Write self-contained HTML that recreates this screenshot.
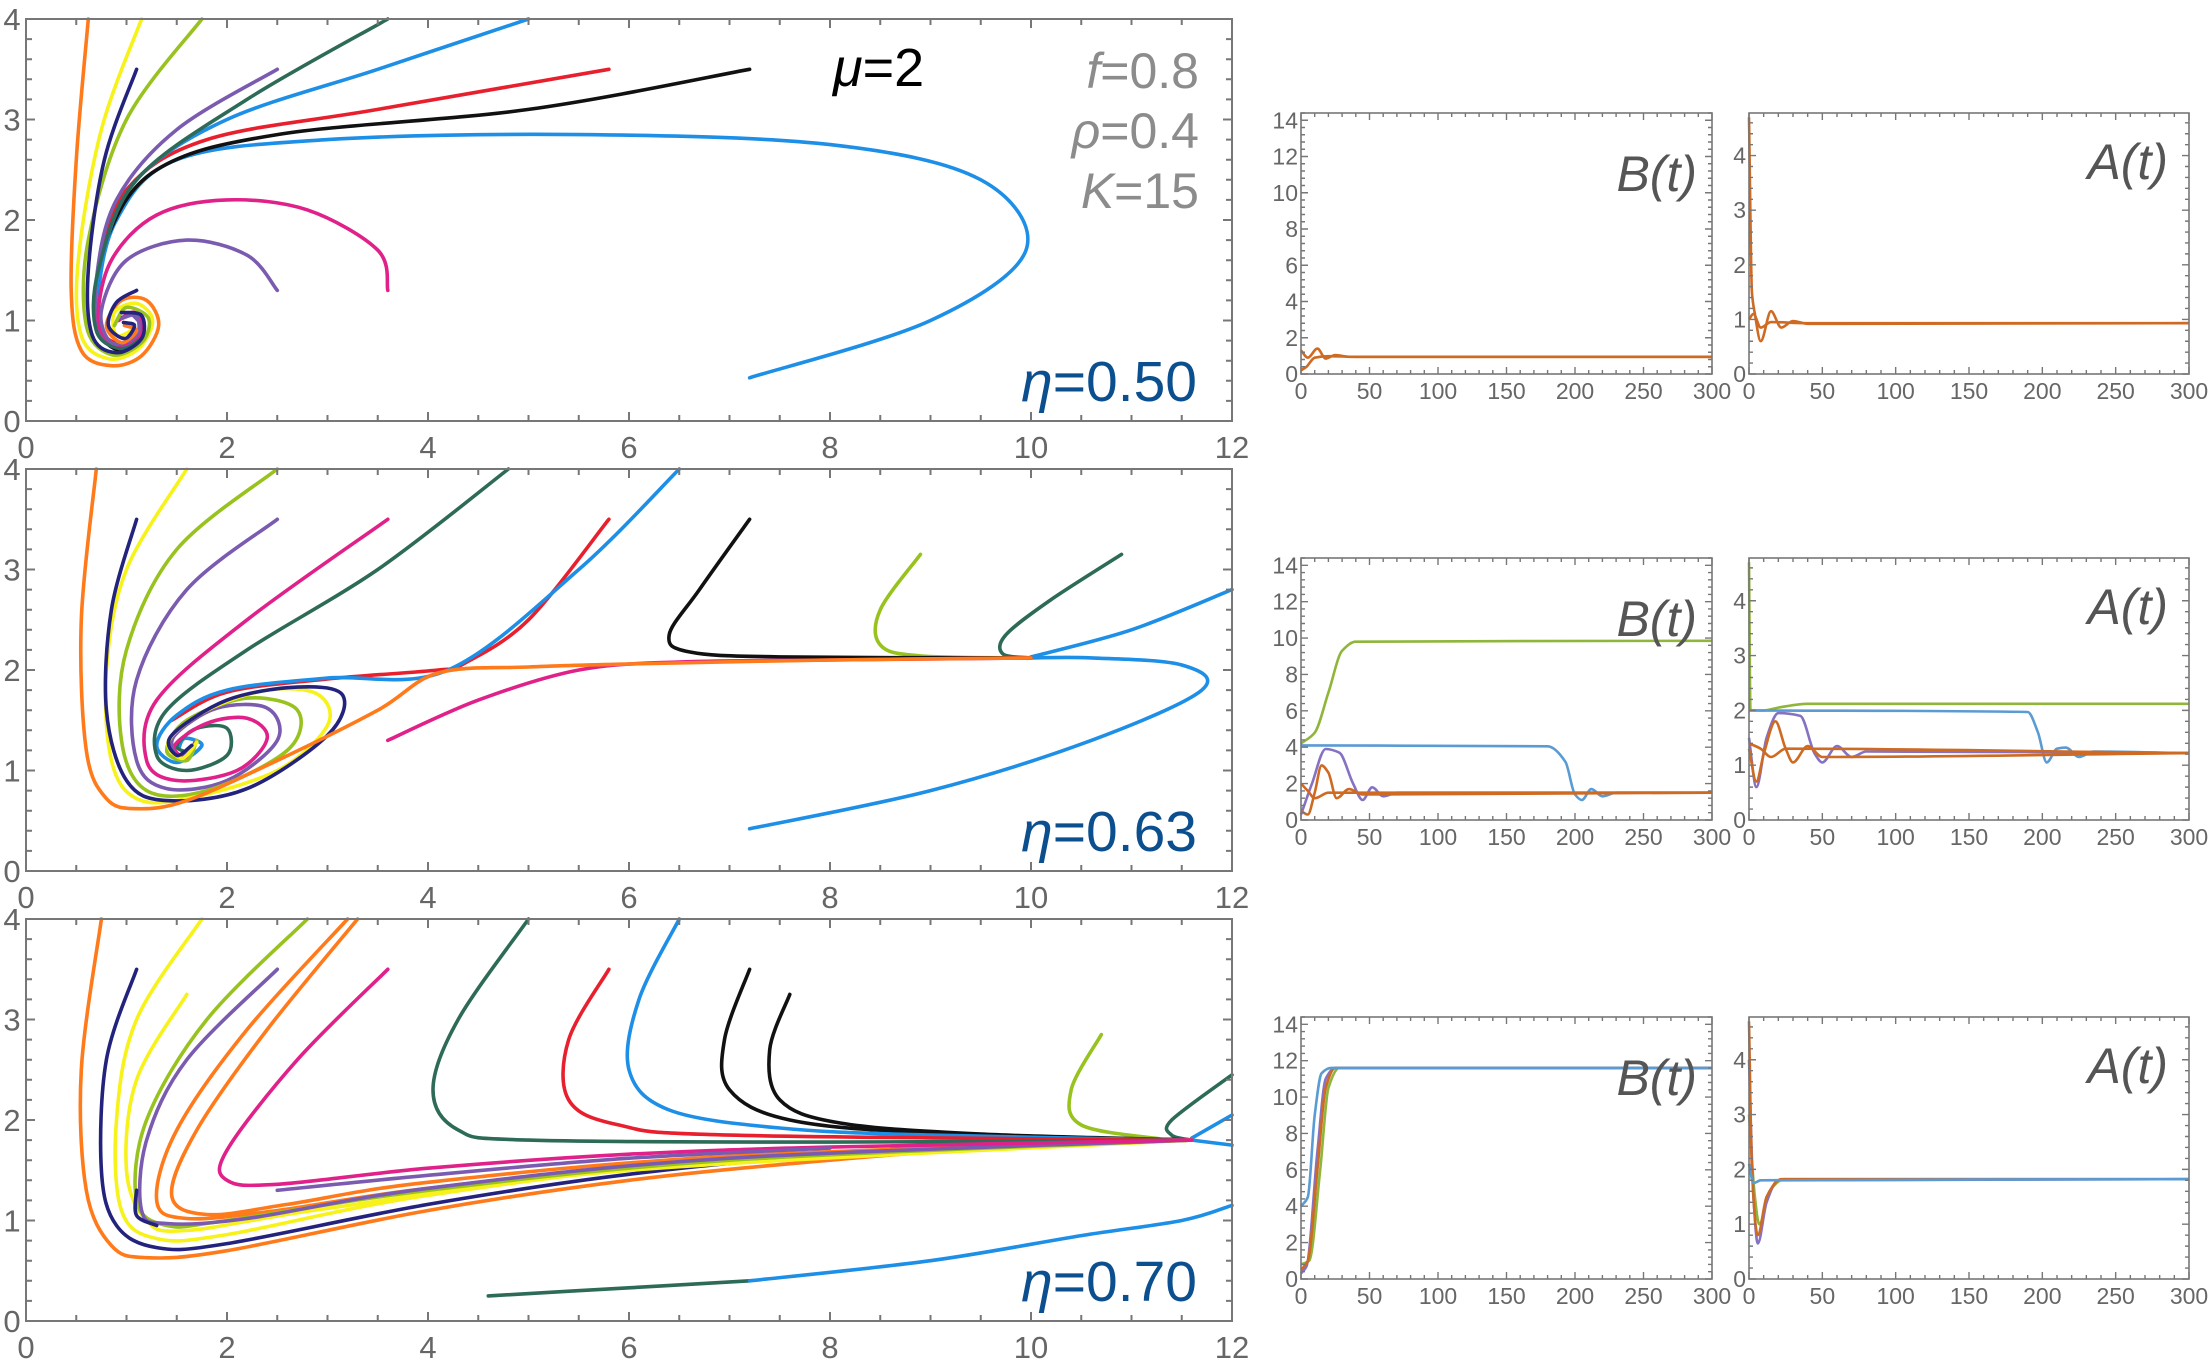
<!DOCTYPE html>
<html><head><meta charset="utf-8"><style>
html,body{margin:0;padding:0;background:#fff;}
svg{display:block;font-family:"Liberation Sans",sans-serif;}
</style></head><body>
<svg id="fig" width="2208" height="1366" viewBox="0 0 2208 1366" xmlns="http://www.w3.org/2000/svg">
<g id="phase"></g>
<g id="series"></g>
<text x="833" y="86" font-size="54" fill="#000"><tspan font-style="italic">μ</tspan>=2</text>
<text x="1199" y="88" font-size="50" fill="#8c8c8c" text-anchor="end"><tspan font-style="italic">f</tspan>=0.8</text>
<text x="1199" y="148" font-size="50" fill="#8c8c8c" text-anchor="end"><tspan font-style="italic">ρ</tspan>=0.4</text>
<text x="1199" y="208" font-size="50" fill="#8c8c8c" text-anchor="end"><tspan font-style="italic">K</tspan>=15</text>
</svg>
<script>
// ---------- phase portrait data (x = B, y = A) ----------
const P1_orange=[[0.62,4],[0.5,2.6],[0.45,1.3],[0.55,0.7],[0.85,0.55],[1.15,0.65],[1.32,0.95],[1.2,1.2],[0.95,1.2],[0.8,0.95],[0.95,0.78],[1.1,0.9],[0.98,0.95]];
const P1_yellow=[[1.15,4],[0.75,2.9],[0.52,1.6],[0.55,0.85],[0.82,0.62],[1.12,0.72],[1.26,1.0],[1.1,1.17],[0.88,1.08],[0.9,0.85],[1.05,0.9]];
const P1_ygreen=[[1.75,4],[1.0,3.0],[0.62,1.8],[0.6,0.95],[0.85,0.66],[1.15,0.78],[1.22,1.02],[1.0,1.13],[0.88,0.95]];
const P1_navy=[[1.1,3.5],[0.78,2.6],[0.62,1.5],[0.66,0.85],[0.9,0.68],[1.15,0.82],[1.15,1.05],[0.95,1.08]];
const P1_teal=[[3.6,4],[2.2,3.2],[1.1,2.4],[0.72,1.5],[0.7,0.9],[0.95,0.72],[1.16,0.86],[1.1,1.05],[0.92,1.02]];
const P1_purple=[[2.5,3.5],[1.5,2.9],[0.9,2.2],[0.7,1.4],[0.75,0.85],[1.0,0.74],[1.17,0.9],[1.05,1.07]];
const P1_blue=[[5,4],[3.5,3.5],[2.0,3.0],[1.1,2.4],[0.75,1.6],[0.72,0.95],[0.95,0.73],[1.15,0.88]];
const P1_red=[[5.8,3.5],[3.5,3.1],[1.8,2.8],[1.0,2.3],[0.72,1.5],[0.75,0.9],[1.0,0.74]];
const P1_black=[[7.2,3.5],[5,3.1],[2.5,2.85],[1.3,2.5],[0.8,1.8],[0.7,1.0],[0.88,0.72],[1.1,0.8]];
const P1_loop=[[7.2,0.43],[9,1.0],[9.95,1.7],[9.5,2.4],[8,2.75],[5.5,2.85],[3,2.8],[1.5,2.6],[0.9,2.0],[0.72,1.2],[0.85,0.75],[1.1,0.8],[1.15,1.0]];
const P1_magenta=[[3.6,1.3],[3.5,1.7],[2.8,2.1],[2.0,2.2],[1.3,2.05],[0.85,1.6],[0.72,1.0],[0.9,0.76],[1.15,0.88],[1.08,1.08],[0.92,1.0]];
const P1_purple2=[[2.5,1.3],[2.2,1.65],[1.6,1.8],[1.0,1.6],[0.75,1.1],[0.85,0.78],[1.1,0.85],[1.1,1.05],[0.95,1.02]];
const P1_navy2=[[1.1,1.3],[0.9,1.18],[0.82,0.95],[0.98,0.82],[1.08,0.95],[0.97,0.98]];

const P2_orange=[[0.7,4],[0.55,2.5],[0.6,1.2],[0.8,0.72],[1.1,0.62],[1.6,0.7],[2.5,1.1],[3.5,1.6],[4.1,1.97],[5,2.03],[6,2.06],[8,2.1],[10,2.12]];
const P2_navy=[[1.1,3.5],[0.85,2.6],[0.8,1.6],[1.0,0.9],[1.4,0.7],[2.2,0.82],[3.0,1.35],[3.15,1.75],[2.7,1.83],[2.0,1.7],[1.45,1.35],[1.5,1.15],[1.65,1.25]];
const P2_yellow=[[1.6,4],[1.0,3.0],[0.8,2.0],[0.85,1.1],[1.1,0.72],[1.6,0.72],[2.5,1.0],[3.0,1.45],[2.9,1.76],[2.4,1.8],[1.8,1.6],[1.42,1.3],[1.55,1.12],[1.7,1.28]];
const P2_ygreen=[[2.5,4],[1.5,3.2],[1.0,2.2],[0.95,1.3],[1.2,0.8],[1.8,0.8],[2.6,1.2],[2.7,1.6],[2.2,1.72],[1.6,1.5],[1.4,1.2],[1.6,1.1],[1.7,1.3]];
const P2_purple=[[2.5,3.5],[1.6,2.8],[1.1,1.9],[1.1,1.1],[1.4,0.82],[2.0,0.9],[2.5,1.3],[2.4,1.62],[1.9,1.62],[1.48,1.35],[1.5,1.15],[1.65,1.22]];
const P2_magenta=[[3.6,3.5],[2.2,2.5],[1.3,1.7],[1.2,1.1],[1.5,0.9],[2.1,1.0],[2.4,1.32],[2.2,1.52],[1.8,1.47],[1.48,1.25],[1.6,1.12],[1.68,1.28]];
const P2_teal=[[4.8,4],[3.5,3.0],[2.2,2.2],[1.4,1.6],[1.3,1.15],[1.6,1.0],[2.0,1.15],[2.0,1.42],[1.7,1.42],[1.5,1.25],[1.6,1.18]];
const P2_blue=[[6.5,4],[5.5,3.0],[4.2,2.0],[3.0,1.92],[2.0,1.8],[1.5,1.55],[1.3,1.25],[1.5,1.08],[1.75,1.25],[1.58,1.32],[1.52,1.22]];
const P2_red=[[5.8,3.5],[5,2.5],[4.35,2.06],[4.1,2.0],[3,1.91],[2,1.78],[1.45,1.5]];
const P2_magenta2=[[3.6,1.3],[4.5,1.7],[5.5,2.0],[6.5,2.08],[8,2.1],[10,2.12]];
const P2_black=[[7.2,3.5],[6.7,2.8],[6.4,2.35],[6.6,2.18],[7.5,2.13],[10,2.12]];
const P2_ygreen2=[[8.9,3.15],[8.5,2.6],[8.5,2.25],[8.9,2.14],[10,2.12]];
const P2_teal2=[[10.9,3.15],[10.2,2.7],[9.75,2.35],[9.72,2.16],[10,2.12]];
const P2_blue2=[[12,2.8],[11,2.4],[10,2.13]];
const P2_loop=[[7.2,0.42],[9,0.8],[10.6,1.3],[11.7,1.8],[11.5,2.05],[10.6,2.12],[10,2.12]];

const P3_orange=[[0.75,4],[0.55,2.5],[0.6,1.3],[0.85,0.75],[1.2,0.63],[2,0.7],[4,1.1],[6,1.4],[8,1.6],[10,1.75],[11.6,1.8]];
const P3_navy=[[1.1,3.5],[0.8,2.6],[0.75,1.5],[0.9,0.95],[1.3,0.73],[2,0.77],[4,1.16],[6,1.46],[8,1.64],[11.6,1.8]];
const P3_yellow=[[1.75,4],[1.1,3.0],[0.9,2.0],[0.95,1.1],[1.3,0.82],[2,0.86],[4,1.25],[7,1.6],[11.6,1.8]];
const P3_yellow2=[[1.6,3.25],[1.1,2.4],[1.0,1.5],[1.2,1.0],[1.6,0.9],[3,1.12],[6,1.5],[11.6,1.8]];
const P3_ygreen=[[2.8,4],[1.8,3.0],[1.2,2.0],[1.1,1.2],[1.4,0.95],[2,1.0],[4,1.3],[7,1.6],[11.6,1.8]];
const P3_purple=[[2.5,3.5],[1.6,2.6],[1.2,1.8],[1.15,1.1],[1.4,0.97],[2.2,1.02],[4,1.32],[7,1.62],[11.6,1.8]];
const P3_orange2=[[3.2,4],[2.2,2.9],[1.5,1.9],[1.3,1.2],[1.6,1.02],[2.5,1.1],[4,1.32],[7,1.62],[11.6,1.8]];
const P3_orange3=[[3.3,4],[2.4,2.9],[1.7,1.9],[1.45,1.25],[1.8,1.06],[2.6,1.16],[4,1.38],[7,1.64],[11.6,1.8]];
const P3_magenta=[[3.6,3.5],[2.7,2.6],[2.0,1.7],[2.0,1.4],[2.5,1.36],[4,1.52],[6,1.66],[8,1.73],[11.6,1.8]];
const P3_purple2=[[2.5,1.3],[4,1.45],[6,1.62],[8,1.72]];
const P3_navy2=[[1.1,1.3],[1.1,1.05],[1.3,0.95]];
const P3_teal=[[5.0,4],[4.3,3.0],[4.05,2.3],[4.3,1.9],[5,1.8],[8,1.78],[11.6,1.8]];
const P3_red=[[5.8,3.5],[5.4,2.8],[5.4,2.2],[5.9,1.95],[7,1.85],[11.6,1.8]];
const P3_blue=[[6.5,4],[6.1,3.2],[6.0,2.5],[6.4,2.1],[7.5,1.92],[9,1.85],[11.6,1.8]];
const P3_black=[[7.2,3.5],[6.95,2.8],[7.0,2.3],[7.6,2.0],[9,1.87],[11.6,1.8]];
const P3_black2=[[7.6,3.25],[7.4,2.7],[7.5,2.2],[8.1,1.97],[9.5,1.86],[11.6,1.8]];
const P3_ygreen2=[[10.7,2.85],[10.4,2.3],[10.5,1.95],[11.3,1.81]];
const P3_teal2=[[12,2.45],[11.4,2.0],[11.4,1.85],[11.6,1.8]];
const P3_blue2=[[12,2.05],[11.6,1.82]];
const P3_blue3=[[12,1.75],[11.6,1.8]];
const P3_tealLow=[[4.6,0.25],[6,0.33],[7.2,0.4]];
const P3_blueLow=[[7.2,0.4],[9,0.6],[10.5,0.85],[11.5,1.0],[12,1.15]];

// ---------- time series data ----------
const T1B_o1=[[0,1.3],[5,0.9],[12,1.4],[18,0.85],[25,1.05],[35,0.95],[300,0.95]];
const T1B_o2=[[0,0.2],[4,0.4],[10,0.9],[20,0.98],[40,0.95],[300,0.95]];
const T1A_o1=[[0,4.7],[2,1.5],[4,1.1],[8,0.6],[15,1.15],[22,0.85],[30,0.97],[40,0.92],[300,0.93]];
const T1A_o2=[[0,1.0],[3,1.1],[8,0.85],[15,0.95],[40,0.93],[300,0.93]];
const T2B_g=[[0,4.2],[10,4.8],[20,7],[30,9.3],[40,9.8],[300,9.85]];
const T2B_b=[[0,4.1],[180,4.05],[193,3.2],[200,1.4],[205,1.1],[212,1.7],[220,1.3],[230,1.5],[300,1.5]];
const T2B_p=[[0,0.3],[8,2],[18,3.9],[28,3.7],[38,2],[45,1.1],[52,1.8],[60,1.3],[70,1.5],[300,1.5]];
const T2B_o1=[[0,0.5],[5,0.3],[10,1.5],[15,3],[20,2.6],[26,1.2],[35,1.7],[45,1.4],[300,1.5]];
const T2B_o2=[[0,2],[5,1.6],[10,1.2],[20,1.5],[300,1.5]];
const T2A_g=[[0,4.7],[1,2],[10,2.0],[20,2.05],[40,2.12],[300,2.12]];
const T2A_b=[[0,2],[190,1.97],[197,1.6],[203,1.05],[210,1.3],[216,1.32],[225,1.15],[235,1.25],[300,1.22]];
const T2A_p=[[0,1.5],[5,0.6],[12,1.5],[20,1.95],[35,1.9],[45,1.2],[50,1.05],[60,1.35],[70,1.15],[80,1.25],[300,1.22]];
const T2A_o1=[[0,1.3],[5,0.7],[10,1.2],[18,1.8],[25,1.3],[30,1.05],[40,1.35],[50,1.15],[300,1.22]];
const T2A_o2=[[0,1.4],[8,1.3],[15,1.15],[25,1.3],[300,1.22]];
const T3B_b=[[0,4],[5,4.5],[10,9],[15,11.3],[22,11.6],[300,11.6]];
const T3B_o=[[0,0.5],[5,1],[12,6],[18,10.5],[25,11.6],[300,11.6]];
const T3B_g=[[0,0.8],[6,1],[14,6],[20,10.5],[28,11.6],[300,11.6]];
const T3B_p=[[0,0.3],[4,0.7],[12,7],[18,11],[25,11.6],[300,11.6]];
const T3A_b=[[0,2.1],[3,1.75],[8,1.8],[300,1.82]];
const T3A_o=[[0,4.7],[2,2],[6,0.8],[12,1.5],[22,1.82],[300,1.82]];
const T3A_p=[[0,4],[3,1.5],[6,0.65],[12,1.4],[20,1.8],[300,1.82]];
const T3A_g=[[0,3],[4,1.5],[7,1.0],[14,1.6],[24,1.82],[300,1.82]];

const xTicksPhase=[0,2,4,6,8,10,12];
const yTicksPhase=[0,1,2,3,4];
const tTicks=[0,50,100,150,200,250,300];
const bTicks=[0,2,4,6,8,10,12,14];
const aTicks=[0,1,2,3,4];
const etaLabels=["η=0.50","η=0.63","η=0.70"];

const NS="http://www.w3.org/2000/svg";
const C={orange:"#ff7a1a",yellow:"#f7f21a",ygreen:"#98c21e",navy:"#23237e",teal:"#2d6b58",purple:"#7b5bb0",blue:"#1e8fe6",red:"#e8202e",black:"#111111",magenta:"#e0218a"};
function mk(tag,attrs,parent){const e=document.createElementNS(NS,tag);for(const k in attrs)e.setAttribute(k,attrs[k]);parent.appendChild(e);return e;}
function smooth(pts){let d="M"+pts[0][0].toFixed(1)+","+pts[0][1].toFixed(1);
 for(let i=0;i<pts.length-1;i++){const p0=pts[Math.max(0,i-1)],p1=pts[i],p2=pts[i+1],p3=pts[Math.min(pts.length-1,i+2)];
  const c1=[p1[0]+(p2[0]-p0[0])/6,p1[1]+(p2[1]-p0[1])/6],c2=[p2[0]-(p3[0]-p1[0])/6,p2[1]-(p3[1]-p1[1])/6];
  d+=" C"+c1[0].toFixed(1)+","+c1[1].toFixed(1)+" "+c2[0].toFixed(1)+","+c2[1].toFixed(1)+" "+p2[0].toFixed(1)+","+p2[1].toFixed(1);}
 return d;}
// monotone cubic (x increasing) for time series
function monotone(pts){const n=pts.length;if(n<3){return "M"+pts.map(p=>p[0].toFixed(1)+","+p[1].toFixed(1)).join(" L");}
 const dx=[],s=[];for(let i=0;i<n-1;i++){dx.push(pts[i+1][0]-pts[i][0]);s.push((pts[i+1][1]-pts[i][1])/dx[i]);}
 const m=[s[0]];for(let i=1;i<n-1;i++){m.push(s[i-1]*s[i]<=0?0:3*(dx[i-1]+dx[i])/((2*dx[i]+dx[i-1])/s[i-1]+(dx[i]+2*dx[i-1])/s[i]));}m.push(s[n-2]);
 let d="M"+pts[0][0].toFixed(1)+","+pts[0][1].toFixed(1);
 for(let i=0;i<n-1;i++){const h=dx[i]/3;d+=" C"+(pts[i][0]+h).toFixed(1)+","+(pts[i][1]+m[i]*h).toFixed(1)+" "+(pts[i+1][0]-h).toFixed(1)+","+(pts[i+1][1]-m[i+1]*h).toFixed(1)+" "+pts[i+1][0].toFixed(1)+","+pts[i+1][1].toFixed(1);}
 return d;}

const phase=document.getElementById('phase');
const panels=[
 {top:19,bot:421,curves:[[P1_loop,'blue'],[P1_black,'black'],[P1_red,'red'],[P1_blue,'blue'],[P1_purple,'purple'],[P1_teal,'teal'],[P1_magenta,'magenta'],[P1_purple2,'purple'],[P1_orange,'orange'],[P1_yellow,'yellow'],[P1_ygreen,'ygreen'],[P1_navy,'navy'],[P1_navy2,'navy']]},
 {top:469,bot:871,curves:[[P2_loop,'blue'],[P2_blue2,'blue'],[P2_teal2,'teal'],[P2_ygreen2,'ygreen'],[P2_black,'black'],[P2_magenta2,'magenta'],[P2_red,'red'],[P2_blue,'blue'],[P2_teal,'teal'],[P2_magenta,'magenta'],[P2_purple,'purple'],[P2_ygreen,'ygreen'],[P2_yellow,'yellow'],[P2_navy,'navy'],[P2_orange,'orange']]},
 {top:919,bot:1321,curves:[[P3_tealLow,'teal'],[P3_blueLow,'blue'],[P3_blue3,'blue'],[P3_blue2,'blue'],[P3_teal2,'teal'],[P3_ygreen2,'ygreen'],[P3_black2,'black'],[P3_black,'black'],[P3_blue,'blue'],[P3_red,'red'],[P3_teal,'teal'],[P3_orange,'orange'],[P3_navy,'navy'],[P3_yellow,'yellow'],[P3_yellow2,'yellow'],[P3_orange3,'orange'],[P3_orange2,'orange'],[P3_ygreen,'ygreen'],[P3_purple,'purple'],[P3_magenta,'magenta'],[P3_purple2,'purple'],[P3_navy2,'navy']]}
];
const L=26,R=1232;
panels.forEach((p,pi)=>{
 const g=mk('g',{},phase);
 
 
 const X=x=>L+x*(R-L)/12, Y=y=>p.bot-y*(p.bot-p.top)/4;
 const cg=mk('g',{fill:'none','stroke-width':3.6,'stroke-linecap':'round','stroke-linejoin':'round'},g);
 p.curves.forEach((c,ci)=>{
  const path=mk('path',{d:smooth(c[0].map(q=>[X(q[0]),Y(q[1])])),stroke:C[c[1]]},cg);
  
  
 });
 const fr=mk('rect',{x:L,y:p.top,width:R-L,height:p.bot-p.top,fill:'none',stroke:'#777','stroke-width':2},g);
 
 
 let td="";
 for(let i=0;i<=24;i++){const x=X(i*0.5),len=i%4==0?9:6;td+=`M${x},${p.bot}v${-len}M${x},${p.top}v${len}`;}
 for(let i=0;i<=20;i++){const y=Y(i*0.2),len=i%5==0?9:6;td+=`M${L},${y}h${len}M${R},${y}h${-len}`;}
 mk('path',{d:td,stroke:'#777','stroke-width':2,fill:'none'},g);
 xTicksPhase.forEach(v=>{const t=mk('text',{x:X(v),y:p.bot+37,'font-size':31,fill:'#666','text-anchor':'middle'},g);t.textContent=v;
  
  });
 yTicksPhase.forEach(v=>{const t=mk('text',{x:12,y:Y(v)+11,'font-size':31,fill:'#666','text-anchor':'middle'},g);t.textContent=v;
  
  });
 const e=mk('text',{x:1197,y:p.top+382,'font-size':57,fill:'#0b4f8e','text-anchor':'end'},g);
 e.innerHTML='<tspan font-style="italic">η</tspan>='+etaLabels[pi].slice(2);
 
 
});

// ---------- time series ----------
const TC={o:"#cf6a23",b:"#5a9bd4",p:"#8672c2",g:"#8fb53a"};
const series=document.getElementById('series');
const rows=[{top:113,bot:374,B:[[T1B_o2,'o'],[T1B_o1,'o']],A:[[T1A_o2,'o'],[T1A_o1,'o']]},
 {top:558,bot:820,B:[[T2B_g,'g'],[T2B_b,'b'],[T2B_p,'p'],[T2B_o2,'o'],[T2B_o1,'o']],A:[[T2A_g,'g'],[T2A_b,'b'],[T2A_p,'p'],[T2A_o2,'o'],[T2A_o1,'o']]},
 {top:1017,bot:1279,B:[[T3B_g,'g'],[T3B_p,'p'],[T3B_o,'o'],[T3B_b,'b']],A:[[T3A_g,'g'],[T3A_p,'p'],[T3A_o,'o'],[T3A_b,'b']]}];
function smallPlot(row,ri,kind){
 const l=kind=='B'?1301:1749,r=kind=='B'?1712:2189,ymax=kind=='B'?14.4:4.78;
 const ticks=kind=='B'?bTicks:aTicks, minor=kind=='B'?0.4:0.2;
 const g=mk('g',{},series);
 
 
 const X=t=>l+t*(r-l)/300, Y=v=>row.bot-v*(row.bot-row.top)/ymax;
 const cg=mk('g',{fill:'none','stroke-width':2.6,'stroke-linejoin':'round'},g);
 row[kind].forEach(s=>{const path=mk('path',{d:monotone(s[0].map(q=>[X(q[0]),Y(q[1])])),stroke:TC[s[1]]},cg);
  
  });
 const fr=mk('rect',{x:l,y:row.top,width:r-l,height:row.bot-row.top,fill:'none',stroke:'#777','stroke-width':1.6},g);
 
 
 let td="";
 for(let t=0;t<=300;t+=10){const x=X(t),len=t%50==0?7:4;td+=`M${x},${row.bot}v${-len}M${x},${row.top}v${len}`;}
 for(let k=0;k*minor<=ymax+1e-6;k++){const y=Y(k*minor),len=k%5==0?7:4;td+=`M${l},${y}h${len}M${r},${y}h${-len}`;}
 mk('path',{d:td,stroke:'#777','stroke-width':1.4,fill:'none'},g);
 tTicks.forEach(v=>{const t=mk('text',{x:X(v),y:row.bot+25,'font-size':23,fill:'#666','text-anchor':'middle'},g);t.textContent=v;
  
  });
 ticks.forEach(v=>{const t=mk('text',{x:l-3,y:Y(v)+8,'font-size':23,fill:'#666','text-anchor':'end'},g);t.textContent=v;
  
  });
 const lab=mk('text',{x:kind=='B'?1697:2168,y:row.top+(kind=='B'?78:66),'font-size':50,fill:'#555','font-style':'italic','text-anchor':'end'},g);
 lab.textContent=kind+'(t)';
 
 
}
rows.forEach((row,ri)=>{smallPlot(row,ri,'B');smallPlot(row,ri,'A');});
</script>
</body></html>
